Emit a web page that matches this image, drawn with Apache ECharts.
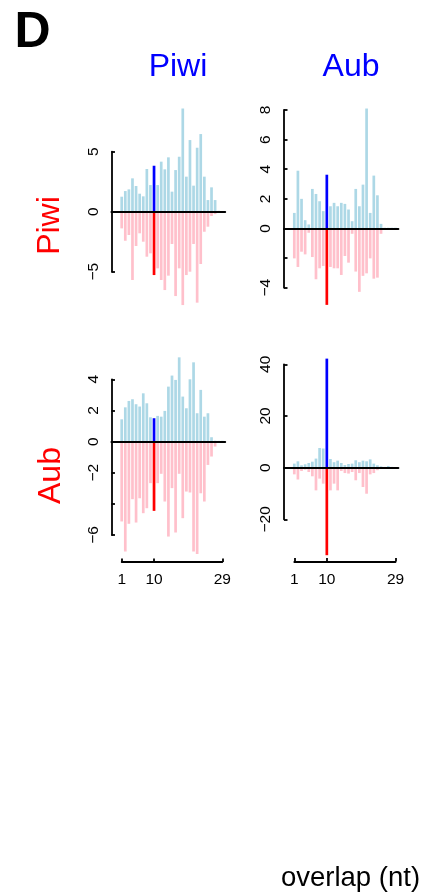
<!DOCTYPE html>
<html><head><meta charset="utf-8">
<script src="https://cdn.jsdelivr.net/npm/echarts@6/dist/echarts.min.js"></script>
<style>html,body{margin:0;padding:0;background:#fff}#c{width:429px;height:894px}</style>
</head><body><div id="c"></div>
<script>
// ---- data ----
const positions = [1,2,3,4,5,6,7,8,9,10,11,12,13,14,15,16,17,18,19,20,21,22,23,24,25,26,27,28,29];
const highlightPos = 10;
const xTickLabels = [1, 10, 29];

const piwiPiwiPos = [1.25,1.72,1.86,2.78,2.14,1.5,1.28,3.56,2.22,3.83,2.22,4.17,3.53,4.53,1.67,3.47,4.58,8.6,2.92,5.97,2.17,5.33,6.47,2.92,0.97,2.03,0.97,0.08,0.05];
const piwiPiwiNeg = [-1.39,-2.42,-1.94,-5.69,-2.86,-1.8,-2.5,-3.75,-3.47,-5.28,-4.72,-5.69,-6.53,-5.33,-2.69,-7.03,-4.72,-7.78,-5.28,-5.0,-2.69,-7.58,-4.36,-1.67,-1.25,-0.36,-0.2,-0.08,-0.05];
const piwiPiwiTicks = [-5, 0, 5];
const piwiPiwiLabels = [-5, 0, 5];

const piwiAubPos = [1.05,3.9,2.0,0.56,0.27,2.67,2.33,1.84,1.17,3.63,1.5,1.73,1.5,1.73,1.66,1.28,0.49,2.67,1.5,2.96,8.1,1.05,3.57,2.24,0.31,0.05,0.05,0.05,0.05];
const piwiAubNeg = [-2.02,-2.6,-1.57,-1.75,-0.29,-1.93,-3.43,-2.69,-2.53,-5.16,-2.6,-2.69,-2.69,-3.14,-1.86,-2.31,-0.36,-2.91,-4.28,-3.2,-3.03,-2.02,-3.39,-3.32,-0.36,-0.05,-0.05,-0.05,-0.05];
const piwiAubTicks = [-4, -2, 0, 2, 4, 6, 8];
const piwiAubLabels = [-4, 0, 2, 4, 6, 8];

const aubPiwiPos = [1.43,2.2,2.61,2.72,2.4,2.25,3.1,2.46,1.56,1.5,1.65,1.6,1.97,3.53,4.24,3.96,5.41,2.89,2.14,4.0,5.09,1.82,3.32,1.6,1.82,0.28,0.06,0.05,0.05];
const aubPiwiNeg = [-5.13,-7.06,-5.28,-3.7,-5.2,-3.64,-4.6,-4.28,-2.67,-4.45,-2.67,-2.07,-3.85,-6.1,-2.99,-5.84,-2.07,-4.92,-3.21,-3.27,-7.06,-7.22,-3.32,-3.85,-1.5,-0.96,-0.32,-0.05,-0.05];
const aubPiwiTicks = [-6, -4, -2, 0, 2, 4];
const aubPiwiLabels = [-6, -2, 0, 2, 4];

const aubAubPos = [1.55,2.45,0.9,1.3,1.8,2.3,3.5,7.6,7.4,42.2,3.35,2.1,2.7,1.8,1.0,1.4,1.55,2.85,2.1,2.7,2.45,3.2,1.55,0.9,0.5,0.3,0.65,0.3,0.15];
const aubAubNeg = [-2.6,-4.6,-1.3,-0.8,-1.7,-3.35,-8.8,-4.25,-6.2,-33.9,-8.8,-6.2,-8.8,-1.3,-2.1,-2.3,-1.7,-4.9,-2.1,-7.5,-10.1,-2.6,-2.1,-1.0,-0.3,-0.3,-0.3,-0.2,-0.2];
const aubAubTicks = [-20, 0, 20, 40];
const aubAubLabels = [-20, 0, 20, 40];

const colNames = ['Piwi', 'Aub'];
const rowNames = ['Piwi', 'Aub'];

// ---- layout / style ----
const FONT = '"Liberation Sans", Arial, Helvetica, sans-serif';
const X_MIN = -1.85, X_MAX = 29.8;
const cols = [{px1: 121.7, px29: 222.3}, {px1: 294.3, px29: 395.5}];
const bottomAxisY = [562, 561.5];
const panels = [
  {row: 0, col: 0, pos: piwiPiwiPos, neg: piwiPiwiNeg, ticks: piwiPiwiTicks, labels: piwiPiwiLabels, topPx: 151.7, botPx: 271.7},
  {row: 0, col: 1, pos: piwiAubPos, neg: piwiAubNeg, ticks: piwiAubTicks, labels: piwiAubLabels, topPx: 110, botPx: 287.7},
  {row: 1, col: 0, pos: aubPiwiPos, neg: aubPiwiNeg, ticks: aubPiwiTicks, labels: aubPiwiLabels, topPx: 379.3, botPx: 535},
  {row: 1, col: 1, pos: aubAubPos, neg: aubAubNeg, ticks: aubAubTicks, labels: aubAubLabels, topPx: 364.3, botPx: 519.3}
];
const fmt = v => (v < 0 ? '\u2212' + Math.abs(v) : String(v));
const lineW = 1.8;
const BAR_W = 2.7;

const grid = [], xAxis = [], yAxis = [], series = [];
panels.forEach((p, i) => {
  const c = cols[p.col];
  const unit = (c.px29 - c.px1) / 28;
  grid.push({left: c.px1 - (1 - X_MIN) * unit, width: (X_MAX - X_MIN) * unit, top: p.topPx, height: p.botPx - p.topPx, containLabel: false});
  xAxis.push({gridIndex: i, type: 'value', min: X_MIN, max: X_MAX, z: 10,
    axisLine: {show: true, onZero: true, lineStyle: {color: '#000', width: 2}},
    axisTick: {show: false}, axisLabel: {show: false}, splitLine: {show: false}});
  yAxis.push({gridIndex: i, type: 'value', min: Math.min(...p.ticks), max: Math.max(...p.ticks),
    axisLine: {show: true, onZero: false, lineStyle: {color: '#000', width: lineW}},
    axisTick: {show: true, inside: true, length: 3.5, customValues: p.ticks, lineStyle: {color: '#000', width: lineW}},
    axisLabel: {show: true, customValues: p.labels, rotate: 90, formatter: fmt, fontSize: 15.5, color: '#000', fontFamily: FONT, margin: 10},
    splitLine: {show: false}});
  const mk = (vals, base, hi) => positions.map((x, k) => ({value: [x, vals[k]], itemStyle: {color: x === highlightPos ? hi : base}}));
  series.push({type: 'bar', xAxisIndex: i, yAxisIndex: i, data: mk(p.pos, '#add8e6', '#0000ff'), barWidth: BAR_W, barGap: '-100%', clip: false, animation: false, z: 2});
  series.push({type: 'bar', xAxisIndex: i, yAxisIndex: i, data: mk(p.neg, '#ffc0cb', '#ff0000'), barWidth: BAR_W, barGap: '-100%', clip: false, animation: false, z: 2});
});
// bottom x axes (R-style, spanning 1..29 only)
cols.forEach((c, j) => {
  const gi = grid.length;
  grid.push({left: c.px1, width: c.px29 - c.px1, top: bottomAxisY[j] - 1, height: 1});
  xAxis.push({gridIndex: gi, type: 'value', min: 1, max: 29, position: 'bottom',
    axisLine: {show: true, onZero: false, lineStyle: {color: '#000', width: lineW}},
    axisTick: {show: true, inside: true, length: 3.5, customValues: xTickLabels, lineStyle: {color: '#000', width: lineW}},
    axisLabel: {show: true, customValues: xTickLabels, fontSize: 15.5, color: '#000', fontFamily: FONT, margin: 10},
    splitLine: {show: false}});
  yAxis.push({gridIndex: gi, type: 'value', min: 0, max: 1, show: false});
});

const txt = (text, x, y, size, color, opts = {}) => ({type: 'text', x, y, rotation: opts.rotation || 0,
  style: {text, fill: color, font: (opts.bold ? 'bold ' : '') + size + 'px ' + FONT, textAlign: 'center', textVerticalAlign: 'middle'}});

const graphic = [
  txt('D', 32.5, 33, 50, '#000', {bold: true}),
  txt(colNames[0], 178, 67, 32, '#0000ff'),
  txt(colNames[1], 351, 67, 32, '#0000ff'),
  txt(rowNames[0], 50.5, 225.5, 32, '#ff0000', {rotation: Math.PI / 2}),
  txt(rowNames[1], 50.8, 475.5, 32, '#ff0000', {rotation: Math.PI / 2}),
  txt('overlap (nt)', 350.5, 878.5, 27.5, '#000')
];

const chart = echarts.init(document.getElementById('c'), null, {renderer: 'canvas'});
chart.setOption({animation: false, backgroundColor: '#fff', grid, xAxis, yAxis, series, graphic});
</script></body></html>
